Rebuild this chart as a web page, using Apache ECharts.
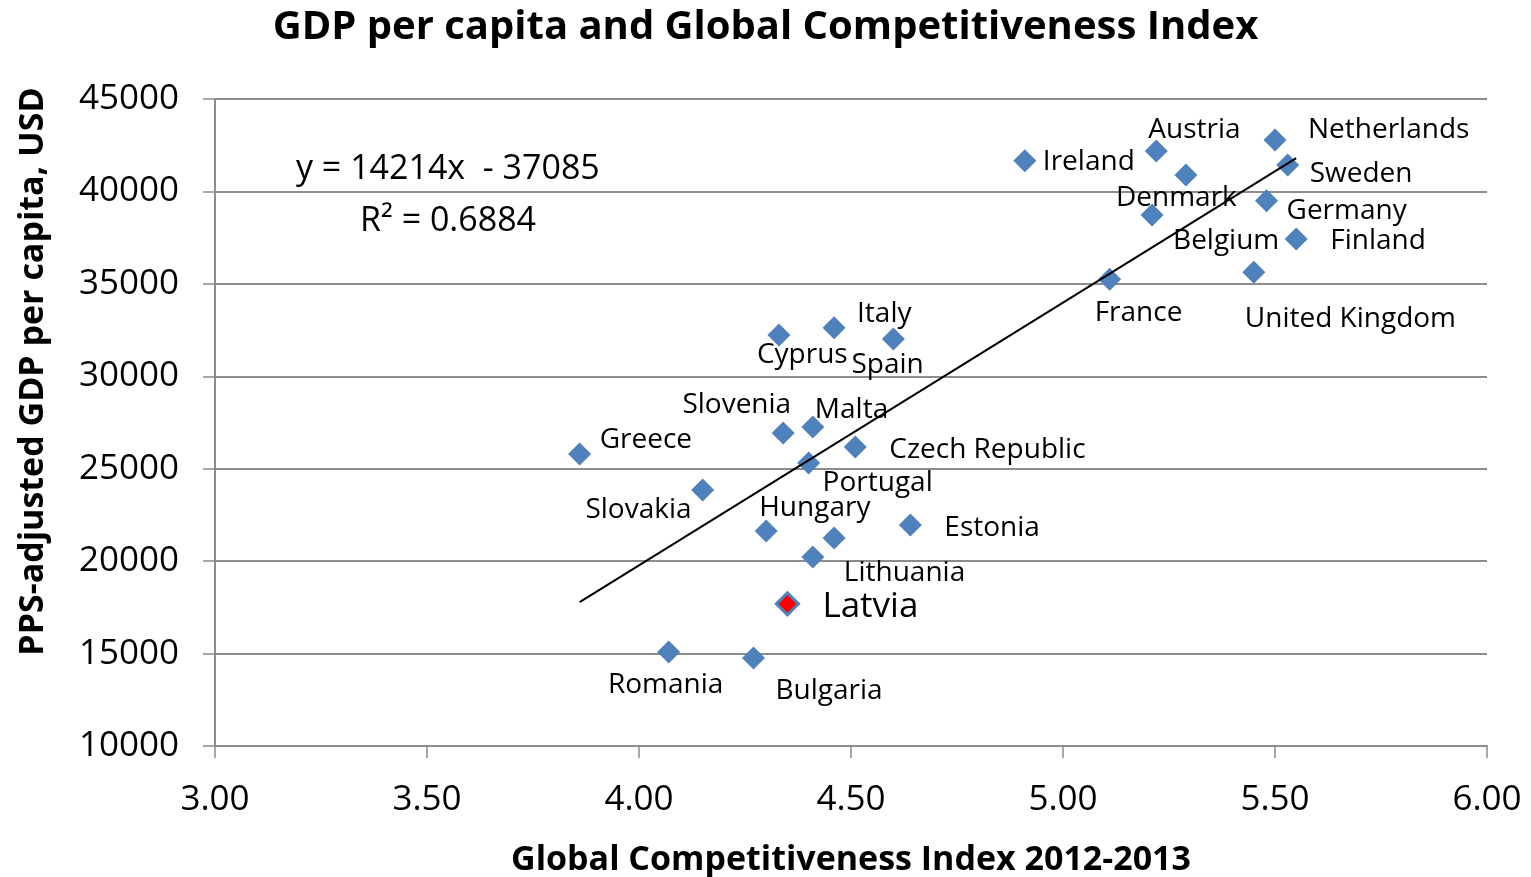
<!DOCTYPE html>
<html>
<head>
<meta charset="utf-8">
<script src="https://cdn.jsdelivr.net/npm/echarts@6/dist/echarts.min.js"></script>
<style>
  html, body { margin: 0; padding: 0; background: #fff; }
  #chart { width: 1531px; height: 877px; }
</style>
</head>
<body>
<div id="chart"></div>
<script>
// countries, GCI 2012-2013 score, GDP per capita (PPS, USD)
var countries = ['Austria', 'Netherlands', 'Ireland', 'Sweden', 'Denmark', 'Germany', 'Belgium',
  'Finland', 'France', 'United Kingdom', 'Italy', 'Cyprus', 'Spain', 'Slovenia', 'Malta', 'Greece',
  'Czech Republic', 'Portugal', 'Slovakia', 'Hungary', 'Estonia', 'Poland', 'Lithuania', 'Latvia',
  'Romania', 'Bulgaria'];
var gci = [5.22, 5.50, 4.91, 5.53, 5.29, 5.48, 5.21,
  5.55, 5.11, 5.45, 4.46, 4.33, 4.60, 4.34, 4.41, 3.86,
  4.51, 4.40, 4.15, 4.30, 4.64, 4.46, 4.41, 4.35,
  4.07, 4.27];
var gdp = [42190, 42780, 41660, 41430, 40890, 39500, 38730,
  37430, 35250, 35630, 32630, 32240, 32020, 26930, 27260, 25800,
  26180, 25310, 23850, 21630, 21960, 21250, 20230, 17690,
  15090, 14760];
var highlight = 'Latvia';
var unlabeled = ['Poland'];

// trend line: y = 14214x - 37085
var trendSlope = 14214;
var trendIntercept = -37085;
var trendR2 = '0.6884';

var xTicks = [3, 6, 0.5];
var yTicks = [10000, 45000, 5000];

// label placement relative to the marker: [dx, dy, align]
var labelPlace = {
  'Austria': [-8, -21, 'left'],
  'Netherlands': [33, -10, 'left'],
  'Ireland': [18, 1, 'left'],
  'Sweden': [22, 9, 'left'],
  'Denmark': [-70, 23, 'left'],
  'Germany': [20, 10, 'left'],
  'Belgium': [21, 26, 'left'],
  'Finland': [34, 2, 'left'],
  'France': [-15, 34, 'left'],
  'United Kingdom': [-9, 47, 'left'],
  'Italy': [23, -14, 'left'],
  'Cyprus': [-22, 20, 'left'],
  'Spain': [-42, 26, 'left'],
  'Slovenia': [8, -28, 'right'],
  'Malta': [2, -17, 'left'],
  'Greece': [20, -14, 'left'],
  'Czech Republic': [34, 3, 'left'],
  'Portugal': [14, 20, 'left'],
  'Slovakia': [-11, 20, 'right'],
  'Hungary': [-7, -23, 'left'],
  'Estonia': [34, 3, 'left'],
  'Lithuania': [31, 16, 'left'],
  'Latvia': [35, 3, 'left'],
  'Romania': [-3, 33, 'center'],
  'Bulgaria': [22, 33, 'left']
};

var FONT = 'Open Sans';
var blue = '#4F81BD';
var gridGray = '#8C8C8C';

var points = countries.map(function (name, i) {
  var p = labelPlace[name] || [0, 0, 'center'];
  var isHi = name === highlight;
  return {
    name: name,
    value: [gci[i], gdp[i]],
    symbolSize: isHi ? 22 : 23,
    itemStyle: isHi
      ? { color: '#FF0000', borderColor: blue, borderWidth: 3, opacity: 1 }
      : { color: blue, opacity: 1 },
    z: isHi ? 5 : 2,
    label: {
      show: unlabeled.indexOf(name) < 0,
      position: 'inside',
      align: p[2],
      verticalAlign: 'middle',
      offset: [p[0], p[1]],
      color: '#000',
      textBorderWidth: 0,
      fontFamily: FONT,
      fontSize: isHi ? 35 : 28
    }
  };
});

var xMin = Math.min.apply(null, gci);
var xMax = Math.max.apply(null, gci);
var trendData = [
  [xMin, trendSlope * xMin + trendIntercept],
  [xMax, trendSlope * xMax + trendIntercept]
];

var myChart = echarts.init(document.getElementById('chart'));
var option = {
  animation: false,
  backgroundColor: '#fff',
  textStyle: { fontFamily: FONT },
  title: {
    text: 'GDP per capita and Global Competitiveness Index',
    left: 'center',
    top: 3,
    textStyle: { fontFamily: FONT, fontSize: 40, fontWeight: 'bold', color: '#000' }
  },
  grid: { left: 215, right: 44, top: 99, bottom: 131, outerBoundsMode: 'none' },
  xAxis: {
    type: 'value',
    min: xTicks[0], max: xTicks[1], interval: xTicks[2],
    name: 'Global Competitiveness Index 2012-2013',
    nameLocation: 'middle',
    nameGap: 97,
    nameTextStyle: { fontFamily: FONT, fontSize: 34, fontWeight: 'bold', color: '#000' },
    axisLine: { show: true, lineStyle: { color: gridGray, width: 2 } },
    axisTick: { show: true, inside: false, length: 12, lineStyle: { color: gridGray, width: 1.5 } },
    splitLine: { show: false },
    axisLabel: {
      margin: 37,
      fontSize: 35,
      color: '#000',
      formatter: function (v) { return v.toFixed(2); }
    }
  },
  yAxis: {
    type: 'value',
    min: yTicks[0], max: yTicks[1], interval: yTicks[2],
    name: 'PPS-adjusted GDP per capita, USD',
    nameLocation: 'middle',
    nameGap: 165,
    nameRotate: 90,
    nameTextStyle: { fontFamily: FONT, fontSize: 34, fontWeight: 'bold', color: '#000', padding: [0, 0, 0, 102] },
    axisLine: { show: true, lineStyle: { color: gridGray, width: 2 } },
    axisTick: { show: true, inside: false, length: 12, lineStyle: { color: gridGray, width: 1.5 } },
    splitLine: { show: true, lineStyle: { color: gridGray, width: 2 } },
    axisLabel: {
      margin: 36,
      fontSize: 35,
      color: '#000',
      formatter: function (v) { return String(v); }
    }
  },
  graphic: [
    {
      type: 'text', left: 296, top: 152,
      style: { text: 'y = 14214x  - 37085', fontFamily: FONT, fontSize: 34, fill: '#000' }
    },
    {
      type: 'text', left: 360, top: 204,
      style: { text: 'R\u00b2 = ' + trendR2, fontFamily: FONT, fontSize: 34, fill: '#000' }
    }
  ],
  series: [
    {
      name: 'trend',
      type: 'line',
      data: trendData,
      symbol: 'none',
      lineStyle: { color: '#000', width: 2 },
      z: 3,
      silent: true
    },
    {
      name: 'countries',
      type: 'scatter',
      symbol: 'diamond',
      data: points,
      label: {
        show: true,
        formatter: '{b}',
        color: '#000',
        fontFamily: FONT
      }
    }
  ]
};
myChart.setOption(option);
</script>
</body>
</html>
